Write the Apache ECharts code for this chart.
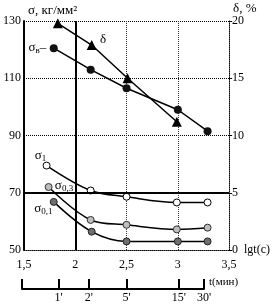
<!DOCTYPE html>
<html>
<head>
<meta charset="utf-8">
<script src="https://cdn.jsdelivr.net/npm/echarts@6/dist/echarts.min.js"></script>
<style>
  html, body { margin: 0; padding: 0; background: #fff; }
  #chart { width: 273px; height: 308px; }
</style>
</head>
<body>
<div id="chart"></div>
<script>
// lg t(c) ticks of the main axis
var xTicks = [1.5, 2, 2.5, 3, 3.5];
var sigmaTicks = [50, 70, 90, 110, 130];
var deltaTicks = [0, 5, 10, 15, 20];

// σв, кг/мм2
var sbX = [1.79, 2.15, 2.5, 3.0, 3.29];
var sbY = [120.5, 113, 106.5, 99, 91.5];
// δ, %
var dX = [1.83, 2.16, 2.51, 2.99];
var dY = [19.8, 17.9, 15.0, 11.2];
// σ1
var s1X = [1.72, 2.15, 2.5, 2.99, 3.29];
var s1Y = [79.5, 70.8, 68.6, 66.6, 66.6];
// σ0,3
var s03X = [1.74, 2.15, 2.5, 2.99, 3.29];
var s03Y = [72, 60.5, 58.8, 57.2, 57.8];
// σ0,1
var s01X = [1.79, 2.16, 2.5, 3.0, 3.29];
var s01Y = [66.8, 56.4, 53, 53, 53];

// bottom time scale t(мин)
var tPos = [1.5, 1.85, 2.14, 2.5, 3.0, 3.24];
var tNames = ["", "1'", "2'", "5'", "15'", "30'"];

var FONT = "Liberation Serif";

function pairs(xs, ys) {
  return xs.map(function (x, i) { return [x, ys[i]]; });
}

var rich = {
  a: { fontFamily: FONT, fontSize: 13, color: "#000" },
  s: { fontFamily: FONT, fontSize: 9, color: "#000", padding: [6, 0, 0, 0] }
};

function note(x, y, text) {
  return {
    coord: [x, y],
    symbol: "circle",
    symbolSize: 0,
    label: { show: true, position: "inside", formatter: text, rich: rich }
  };
}

var myChart = echarts.init(document.getElementById("chart"), null, { renderer: "canvas" });

var option = {
  animation: false,
  backgroundColor: "#fff",
  textStyle: { fontFamily: FONT },
  grid: [
    { left: 22, right: 41, top: 21, bottom: 58 },
    { left: 22, right: 69, top: 289, height: 0 }
  ],
  xAxis: [
    {
      gridIndex: 0,
      type: "value",
      min: 1.5,
      max: 3.5,
      interval: 0.5,
      name: "lgt(c)",
      nameLocation: "end",
      nameGap: 12,
      nameTextStyle: { color: "#000", fontSize: 12, fontFamily: FONT },
      axisLine: { lineStyle: { color: "#000", type: "dotted", width: 1 } },
      axisTick: { show: false },
      axisLabel: {
        color: "#000",
        fontSize: 12,
        margin: 9,
        fontFamily: FONT,
        formatter: function (v) { return String(v).replace(".", ","); }
      },
      splitLine: { show: true, lineStyle: { color: "#223366", type: "dotted", width: 1 } }
    },
    {
      gridIndex: 1,
      type: "value",
      min: 1.5,
      max: 3.24,
      position: "bottom",
      name: "t(мин)",
      nameLocation: "end",
      nameGap: 5,
      nameTextStyle: { color: "#000", fontSize: 11, fontFamily: FONT, verticalAlign: "bottom", padding: [0, 0, 1, 0] },
      axisLine: { lineStyle: { color: "#000", width: 2 } },
      axisTick: {
        show: true,
        inside: true,
        length: 10,
        customValues: tPos,
        lineStyle: { color: "#000", width: 2 }
      },
      axisLabel: {
        color: "#000",
        fontSize: 12,
        margin: 3,
        fontFamily: FONT,
        customValues: tPos,
        formatter: function (v) {
          var i = tPos.indexOf(v);
          return i >= 0 ? tNames[i] : "";
        }
      },
      splitLine: { show: false }
    }
  ],
  yAxis: [
    {
      gridIndex: 0,
      type: "value",
      min: 50,
      max: 130,
      interval: 20,
      name: "σ, кг/мм²",
      nameLocation: "end",
      nameGap: 4,
      nameTextStyle: { color: "#000", fontSize: 13, fontFamily: FONT, align: "left", padding: [0, 0, 0, 4] },
      axisLine: { show: true, lineStyle: { color: "#000", width: 2 } },
      axisTick: { show: false },
      axisLabel: { color: "#000", fontSize: 12, margin: 3, fontFamily: FONT },
      splitLine: { show: true, lineStyle: { color: "#000", type: "dotted", width: 1 } }
    },
    {
      gridIndex: 0,
      type: "value",
      min: 0,
      max: 20,
      interval: 5,
      position: "right",
      name: "δ, %",
      nameLocation: "end",
      nameGap: 4,
      nameTextStyle: { color: "#000", fontSize: 13, fontFamily: FONT, align: "left", padding: [0, 0, 0, 4] },
      axisLine: { show: true, lineStyle: { color: "#000", type: "dotted", width: 1 } },
      axisTick: { show: true, length: 3, lineStyle: { color: "#000" } },
      axisLabel: { color: "#000", fontSize: 12, margin: 3, fontFamily: FONT },
      splitLine: { show: false }
    },
    {
      gridIndex: 1,
      type: "value",
      show: false
    }
  ],
  series: [
    {
      name: "σв",
      type: "line",
      xAxisIndex: 0,
      yAxisIndex: 0,
      data: pairs(sbX, sbY),
      symbol: "circle",
      symbolSize: 8,
      itemStyle: { color: "#111" },
      lineStyle: { color: "#000", width: 1.5 },
      markLine: {
        silent: true,
        symbol: "none",
        label: { show: false },
        lineStyle: { color: "#000", type: "solid", width: 2 },
        data: [{ xAxis: 2 }, { yAxis: 70 }]
      },
      markPoint: {
        silent: true,
        data: [note(1.63, 120.6, "{a|σ}{s|в}{a|–}")]
      }
    },
    {
      name: "δ",
      type: "line",
      xAxisIndex: 0,
      yAxisIndex: 1,
      data: pairs(dX, dY),
      symbol: "triangle",
      symbolSize: 10,
      itemStyle: { color: "#000" },
      lineStyle: { color: "#000", width: 1.5 },
      markPoint: {
        silent: true,
        data: [note(2.27, 18.4, "{a|δ}")]
      }
    },
    {
      name: "σ1",
      type: "line",
      xAxisIndex: 0,
      yAxisIndex: 0,
      data: pairs(s1X, s1Y),
      smooth: 0.35,
      symbol: "circle",
      symbolSize: 7,
      showAllSymbol: true,
      itemStyle: { color: "#fff", borderColor: "#000", borderWidth: 1 },
      lineStyle: { color: "#000", width: 1.5 },
      markPoint: {
        silent: true,
        data: [note(1.66, 83, "{a|σ}{s|1}")]
      }
    },
    {
      name: "σ0,3",
      type: "line",
      xAxisIndex: 0,
      yAxisIndex: 0,
      data: pairs(s03X, s03Y),
      smooth: 0.35,
      symbol: "circle",
      symbolSize: 7,
      itemStyle: { color: "#bdbdbd", borderColor: "#333", borderWidth: 1 },
      lineStyle: { color: "#000", width: 1.5 },
      markPoint: {
        silent: true,
        data: [note(1.89, 72.6, "{a|σ}{s|0,3}")]
      }
    },
    {
      name: "σ0,1",
      type: "line",
      xAxisIndex: 0,
      yAxisIndex: 0,
      data: pairs(s01X, s01Y),
      smooth: 0.35,
      symbol: "circle",
      symbolSize: 7,
      itemStyle: { color: "#6e6e6e", borderColor: "#222", borderWidth: 1 },
      lineStyle: { color: "#000", width: 1.5 },
      markPoint: {
        silent: true,
        data: [note(1.69, 64.3, "{a|σ}{s|0,1}")]
      }
    }
  ]
};

myChart.setOption(option);
window.addEventListener("resize", function () {
  myChart.resize();
});
</script>
</body>
</html>
